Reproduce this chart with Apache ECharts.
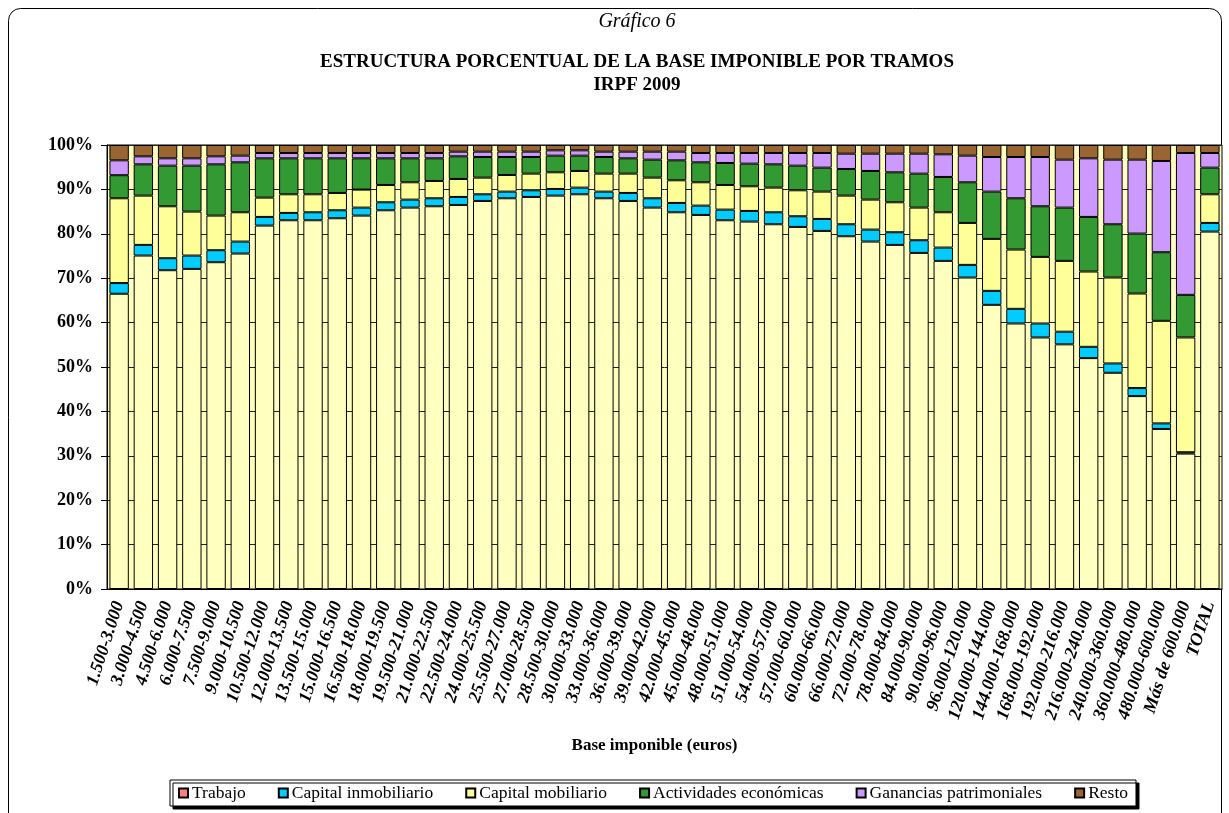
<!DOCTYPE html>
<html>
<head>
<meta charset="utf-8">
<script src="https://cdn.jsdelivr.net/npm/echarts@6/dist/echarts.min.js"></script>
<style>
  html, body { margin: 0; padding: 0; background: #fff; }
  #chart { width: 1229px; height: 813px; }
</style>
</head>
<body>
<div id="chart"></div>
<script>
var tramos = ['1.500-3.000', '3.000-4.500', '4.500-6.000', '6.000-7.500', '7.500-9.000', '9.000-10.500',
    '10.500-12.000', '12.000-13.500', '13.500-15.000', '15.000-16.500', '16.500-18.000', '18.000-19.500',
    '19.500-21.000', '21.000-22.500', '22.500-24.000', '24.000-25.500', '25.500-27.000', '27.000-28.500',
    '28.500-30.000', '30.000-33.000', '33.000-36.000', '36.000-39.000', '39.000-42.000', '42.000-45.000',
    '45.000-48.000', '48.000-51.000', '51.000-54.000', '54.000-57.000', '57.000-60.000', '60.000-66.000',
    '66.000-72.000', '72.000-78.000', '78.000-84.000', '84.000-90.000', '90.000-96.000', '96.000-120.000',
    '120.000-144.000', '144.000-168.000', '168.000-192.000', '192.000-216.000', '216.000-240.000',
    '240.000-360.000', '360.000-480.000', '480.000-600.000', 'Más de 600.000', 'TOTAL'];

var trabajo = [66.5, 75.1, 71.8, 72.1, 73.6, 75.55, 81.85, 83.05, 83.05, 83.5, 84.1, 85.3, 85.9, 86.2, 86.5,
    87.4, 88.0, 88.3, 88.6, 88.9, 88.0, 87.4, 85.9, 84.85, 84.25, 83.05, 82.75, 82.15, 81.55, 80.65, 79.45,
    78.25, 77.5, 75.7, 73.9, 70.15, 64.0, 59.8, 56.65, 55.1, 52.0, 48.7, 43.45, 36.05, 30.5, 80.5];
var capInmobiliario = [2.4, 2.4, 2.7, 3.0, 2.7, 2.7, 1.95, 1.65, 1.8, 1.8, 1.8, 1.8, 1.8, 1.8, 1.8, 1.5, 1.5,
    1.5, 1.5, 1.5, 1.5, 1.8, 2.1, 2.1, 2.1, 2.4, 2.4, 2.7, 2.4, 2.7, 2.7, 2.7, 2.85, 2.85, 3.0, 2.85, 3.15,
    3.3, 3.15, 2.85, 2.55, 2.1, 1.8, 1.25, 0.3, 1.95];
var capMobiliario = [19.1, 11.1, 11.7, 9.9, 7.8, 6.6, 4.35, 4.2, 4.05, 3.9, 4.05, 3.9, 3.9, 3.9, 4.05, 3.75,
    3.75, 3.75, 3.75, 3.75, 4.05, 4.35, 4.65, 5.1, 5.25, 5.55, 5.55, 5.55, 5.85, 6.15, 6.45, 6.75, 6.75, 7.35,
    7.95, 9.45, 11.7, 13.35, 15.0, 15.95, 16.95, 19.35, 21.3, 23.1, 25.85, 6.45];
var actEconomicas = [5.2, 7.05, 9.15, 10.35, 11.55, 11.25, 8.85, 8.1, 8.1, 7.8, 7.05, 6.0, 5.4, 5.1, 5.1, 4.65,
    4.05, 3.75, 3.75, 3.45, 3.75, 3.45, 4.05, 4.5, 4.5, 4.95, 5.1, 5.25, 5.55, 5.4, 6.0, 6.45, 6.75, 7.65,
    7.95, 9.15, 10.65, 11.55, 11.4, 12.0, 12.3, 12.0, 13.5, 15.45, 9.6, 6.0];
var ganancias = [3.35, 1.8, 1.65, 1.65, 1.8, 1.5, 1.2, 1.2, 1.2, 1.2, 1.2, 1.2, 1.2, 1.2, 1.05, 1.2, 1.2, 1.2,
    1.2, 1.2, 1.2, 1.5, 1.8, 1.95, 2.1, 2.25, 2.4, 2.55, 2.85, 3.3, 3.45, 3.9, 4.2, 4.5, 5.1, 6.0, 7.8, 9.3,
    11.1, 10.8, 13.2, 14.55, 16.65, 20.55, 31.95, 3.3];
var resto = [3.45, 2.55, 3.0, 3.0, 2.55, 2.4, 1.8, 1.8, 1.8, 1.8, 1.8, 1.8, 1.8, 1.8, 1.5, 1.5, 1.5, 1.5, 1.2,
    1.2, 1.5, 1.5, 1.5, 1.5, 1.8, 1.8, 1.8, 1.8, 1.8, 1.8, 1.95, 1.95, 1.95, 1.95, 2.1, 2.4, 2.7, 2.7, 2.7,
    3.3, 3.0, 3.3, 3.3, 3.6, 1.8, 1.8];

var serif = "'Liberation Serif', 'Times New Roman', serif";

function serie(name, data, color) {
    return {
        name: name,
        type: 'bar',
        stack: 'total',
        barCategoryGap: '20%',
        data: data,
        itemStyle: { color: color, borderColor: '#000', borderWidth: 1 }
    };
}

var chart = echarts.init(document.getElementById('chart'));
var option = {
    animation: false,
    backgroundColor: '#fff',
    graphic: [
        { type: 'rect', shape: { x: 8.5, y: 8.5, width: 1213, height: 840, r: 12 },
          style: { fill: 'none', stroke: '#000', lineWidth: 1 }, z: -10 },
        { type: 'text', x: 637, y: 12, style: { text: 'Gráfico 6', textAlign: 'center',
          font: 'italic 20px ' + serif, fill: '#000' } },
        { type: 'text', x: 637, y: 53, style: { text: 'ESTRUCTURA PORCENTUAL DE LA BASE IMPONIBLE POR TRAMOS',
          textAlign: 'center', font: 'bold 19px ' + serif, fill: '#000' } },
        { type: 'text', x: 637, y: 76, style: { text: 'IRPF 2009', textAlign: 'center',
          font: 'bold 19px ' + serif, fill: '#000' } }
    ],
    legend: {
        left: 170,
        top: 780,
        padding: [4, 8],
        itemGap: 32,
        itemWidth: 9,
        itemHeight: 9,
        icon: 'rect',
        backgroundColor: '#fff',
        borderColor: '#000',
        borderWidth: 1,
        shadowColor: '#000',
        shadowOffsetX: 3,
        shadowOffsetY: 3,
        shadowBlur: 0,
        textStyle: { fontFamily: serif, fontSize: 17.5, color: '#000', padding: [0, 0, 0, -1] },
        data: [
            { name: 'Trabajo', itemStyle: { color: '#FF8080' } },
            'Capital inmobiliario', 'Capital mobiliario', 'Actividades económicas',
            'Ganancias patrimoniales', 'Resto'
        ]
    },
    grid: {
        left: 107,
        right: 7,
        top: 145,
        bottom: 224,
        show: true,
        backgroundColor: '#FFFFC0',
        borderColor: '#000',
        borderWidth: 1
    },
    xAxis: {
        type: 'category',
        data: tramos,
        name: 'Base imponible (euros)',
        nameLocation: 'middle',
        nameGap: 148,
        nameTextStyle: { fontFamily: serif, fontSize: 17, fontWeight: 'bold', color: '#000', padding: [0, 20, 0, 0] },
        axisLine: { lineStyle: { color: '#000' } },
        axisTick: { length: 5, lineStyle: { color: '#000' } },
        axisLabel: {
            interval: 0,
            rotate: 72,
            margin: 13,
            fontFamily: serif,
            fontSize: 18,
            fontWeight: 'bold',
            fontStyle: 'italic',
            color: '#000'
        }
    },
    yAxis: {
        type: 'value',
        min: 0,
        max: 100,
        interval: 10,
        axisLine: { show: true, lineStyle: { color: '#000' } },
        axisTick: { show: true, length: 6, lineStyle: { color: '#000' } },
        axisLabel: {
            formatter: '{value}%',
            margin: 14,
            fontFamily: serif,
            fontSize: 18,
            fontWeight: 'bold',
            color: '#000'
        },
        splitLine: { lineStyle: { color: '#222', width: 1 } }
    },
    series: [
        serie('Trabajo', trabajo, '#FFFFC0'),
        serie('Capital inmobiliario', capInmobiliario, '#00CCFF'),
        serie('Capital mobiliario', capMobiliario, '#FFFF99'),
        serie('Actividades económicas', actEconomicas, '#339933'),
        serie('Ganancias patrimoniales', ganancias, '#CC99FF'),
        serie('Resto', resto, '#996633')
    ]
};
chart.setOption(option);
</script>
</body>
</html>
